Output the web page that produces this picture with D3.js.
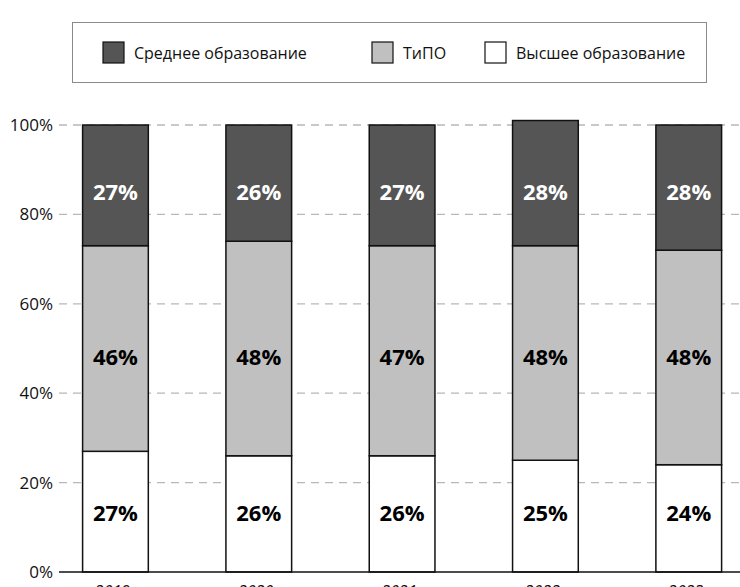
<!DOCTYPE html>
<html>
<head>
<meta charset="utf-8">
<script src="https://cdn.jsdelivr.net/npm/d3@7"></script>
<style>
  body { margin: 0; background: #fff; }
  svg { display: block; font-family: "Open Sans", sans-serif; }
</style>
</head>
<body>
<svg id="chart"></svg>
<script>
// data
const years = ["2019", "2020", "2021", "2022", "2023"];
const higher = [27, 26, 26, 25, 24];     // Высшее образование
const tipo = [46, 48, 47, 48, 48];       // ТиПО
const secondary = [27, 26, 27, 28, 28];  // Среднее образование
const yTicks = [0, 20, 40, 60, 80, 100];

const seriesNames = ["Высшее образование", "ТиПО", "Среднее образование"];
const seriesColors = ["#ffffff", "#c0c0c0", "#555555"];
const labelColors = ["#000000", "#000000", "#ffffff"];
// the value labels sit on one common level per series (in % of the y axis)
const labelLevel = [13.2, 48.1, 85.0];

const width = 740, height = 587;
const svg = d3.select("#chart").attr("width", width).attr("height", height);

const x = d3.scaleBand()
  .domain(years)
  .range([82.6, 721.6])
  .paddingInner(0.5415)
  .paddingOuter(0);

const y = d3.scaleLinear().domain([0, 100]).range([572, 125]);

// build stacked rows
const rows = years.map((yr, i) => ({ year: yr, higher: higher[i], tipo: tipo[i], secondary: secondary[i] }));
const stack = d3.stack().keys(["higher", "tipo", "secondary"]);
const layers = stack(rows);

// gridlines
svg.append("g")
  .selectAll("line")
  .data(yTicks.filter(d => d > 0))
  .enter()
  .append("line")
  .attr("x1", 59)
  .attr("x2", width)
  .attr("y1", d => y(d))
  .attr("y2", d => y(d))
  .attr("stroke", "#b8b8b8")
  .attr("stroke-width", 1.3)
  .attr("stroke-dasharray", "8,6");

// y tick labels
svg.append("g")
  .selectAll("text")
  .data(yTicks)
  .enter()
  .append("text")
  .attr("x", 53)
  .attr("y", d => y(d))
  .attr("dy", "0.35em")
  .attr("text-anchor", "end")
  .style("font-size", "17px")
  .style("fill", "#111")
  .text(d => d + "%");

// bars
const layerG = svg.append("g")
  .selectAll("g")
  .data(layers)
  .enter()
  .append("g")
  .attr("fill", (d, i) => seriesColors[i]);

layerG.selectAll("rect")
  .data(d => d)
  .enter()
  .append("rect")
  .attr("x", d => x(d.data.year))
  .attr("width", x.bandwidth())
  .attr("y", d => y(d[1]))
  .attr("height", d => y(d[0]) - y(d[1]))
  .attr("stroke", "#111")
  .attr("stroke-width", 1.5);

// value labels
layers.forEach((layer, li) => {
  svg.append("g")
    .selectAll("text")
    .data(layer)
    .enter()
    .append("text")
    .attr("x", d => x(d.data.year) + x.bandwidth() / 2)
    .attr("y", y(labelLevel[li]))
    .attr("dy", "0.36em")
    .attr("text-anchor", "middle")
    .style("font-size", "22px")
    .style("font-weight", "bold")
    .style("fill", labelColors[li])
    .text(d => (d[1] - d[0]) + "%");
});

// baseline axis
svg.append("line")
  .attr("x1", 59)
  .attr("x2", width)
  .attr("y1", y(0))
  .attr("y2", y(0))
  .attr("stroke", "#111")
  .attr("stroke-width", 1.6);

// year labels (cut off at the bottom like the original)
svg.append("g")
  .selectAll("text")
  .data(years)
  .enter()
  .append("text")
  .attr("x", d => x(d) + x.bandwidth() / 2 - 3)
  .attr("y", 597)
  .attr("text-anchor", "middle")
  .style("font-size", "16px")
  .style("font-style", "italic")
  .style("fill", "#111")
  .text(d => d);

// legend
const legend = svg.append("g");
legend.append("rect")
  .attr("x", 72.5).attr("y", 22.5)
  .attr("width", 634).attr("height", 60)
  .attr("fill", "#fff")
  .attr("stroke", "#8a8a8a")
  .attr("stroke-width", 1);

const legendItems = [
  { name: seriesNames[2], color: seriesColors[2], x: 103 },
  { name: seriesNames[1], color: seriesColors[1], x: 372 },
  { name: seriesNames[0], color: seriesColors[0], x: 485 }
];

const li = legend.selectAll("g.item")
  .data(legendItems)
  .enter()
  .append("g")
  .attr("class", "item")
  .attr("transform", d => `translate(${d.x}, 42)`);

li.append("rect")
  .attr("width", 21).attr("height", 21)
  .attr("fill", d => d.color)
  .attr("stroke", "#111")
  .attr("stroke-width", 1.2);

li.append("text")
  .attr("x", 31)
  .attr("y", 11)
  .attr("dy", "0.35em")
  .style("font-size", "16px")
  .style("fill", "#111")
  .text(d => d.name);
</script>
</body>
</html>
